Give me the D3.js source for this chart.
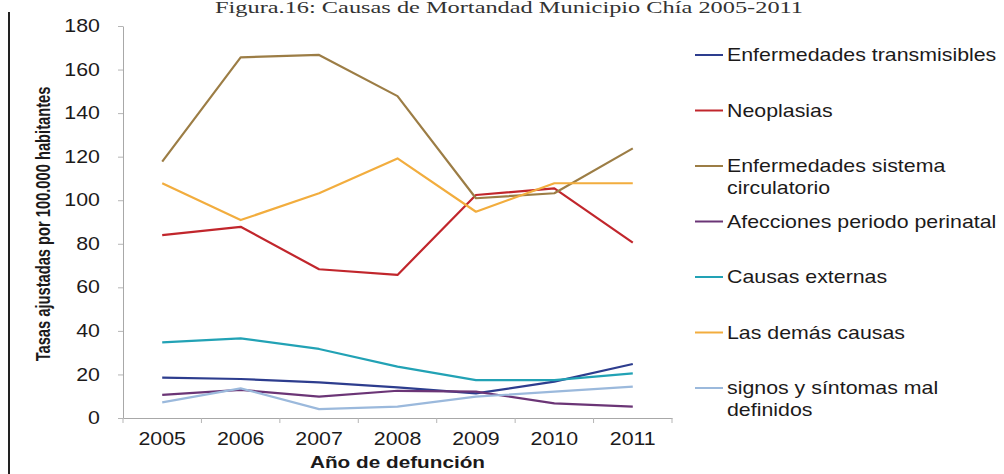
<!DOCTYPE html>
<html>
<head>
<meta charset="utf-8">
<script src="https://cdn.jsdelivr.net/npm/d3@7"></script>
<style>
  html, body { margin: 0; padding: 0; background: #fff; }
  svg { display: block; }
  .wide { transform-box: fill-box; transform: scaleX(1.22); }
  .wide-mid { transform-origin: center; }
  .wide-end { transform-origin: right; }
  .wide-start { transform-origin: left; }
</style>
</head>
<body>
<svg id="chart" width="1004" height="474"></svg>
<script>
// Mortality causes, adjusted rates per 100.000 inhabitants, 2005-2011
const years = ["2005", "2006", "2007", "2008", "2009", "2010", "2011"];
const seriesNames = [
  "Enfermedades transmisibles",
  "Neoplasias",
  "Enfermedades sistema circulatorio",
  "Afecciones periodo perinatal",
  "Causas externas",
  "Las demás causas",
  "signos y síntomas mal definidos"
];
const legendLines = [
  ["Enfermedades transmisibles"],
  ["Neoplasias"],
  ["Enfermedades sistema", "circulatorio"],
  ["Afecciones periodo perinatal"],
  ["Causas externas"],
  ["Las demás causas"],
  ["signos y síntomas mal", "definidos"]
];
const transmisibles = [18.5, 17.9, 16.4, 14.1, 11.3, 16.7, 24.8];
const neoplasias    = [84.0, 87.8, 68.3, 65.7, 102.4, 105.4, 80.5];
const circulatorio  = [117.7, 165.6, 166.7, 147.8, 100.9, 103.2, 123.8];
const perinatal     = [10.6, 12.9, 9.8, 12.5, 12.1, 6.7, 5.2];
const externas      = [34.7, 36.6, 31.7, 23.6, 17.4, 17.4, 20.5];
const demas         = [107.8, 90.9, 103.2, 119.2, 94.7, 107.8, 107.8];
const signos        = [7.2, 13.6, 4.1, 5.2, 9.8, 12.1, 14.4];
const yTicks = [0, 20, 40, 60, 80, 100, 120, 140, 160, 180];

const seriesValues = [transmisibles, neoplasias, circulatorio, perinatal, externas, demas, signos];
const colors = ["#2d3d8e", "#c1262c", "#9c7d45", "#6b3576", "#22a2b5", "#f2ad3e", "#9bb9dc"];

const svg = d3.select("#chart");
const plot = { left: 123, right: 672, top: 26, bottom: 418 };
const sansFont = "'Liberation Sans', Arial, sans-serif";
const textColor = "#1c1a1a";

const x = d3.scaleBand().domain(years).range([plot.left, plot.right]);
const y = d3.scaleLinear().domain([0, 180]).range([plot.bottom, plot.top]);

// Page border on the left
svg.append("line")
  .attr("x1", 9).attr("x2", 9).attr("y1", 12).attr("y2", 474)
  .attr("stroke", "#222").attr("stroke-width", 2);

// Title
svg.append("text")
  .attr("x", 509).attr("y", 13)
  .attr("text-anchor", "middle")
  .attr("font-family", "'Liberation Serif', 'Times New Roman', serif")
  .attr("font-size", 16)
  .attr("textLength", 588).attr("lengthAdjust", "spacingAndGlyphs")
  .attr("fill", "#333")
  .text("Figura.16: Causas de Mortandad Municipio Chía  2005-2011");

// Y axis
const yAxis = svg.append("g")
  .attr("transform", `translate(${plot.left},0)`)
  .call(d3.axisLeft(y).tickValues(yTicks).tickSize(5).tickPadding(18).tickSizeOuter(0));
yAxis.select(".domain").attr("stroke", "#a8a8a8");
yAxis.selectAll(".tick line").attr("stroke", "#b5b5b5");
yAxis.selectAll(".tick text")
  .attr("class", "wide wide-end")
  .attr("font-family", sansFont).attr("font-size", 17.5).attr("fill", textColor);

// X axis
const xAxis = svg.append("g")
  .attr("transform", `translate(0,${plot.bottom})`)
  .call(d3.axisBottom(x).tickSize(5).tickPadding(10).tickSizeOuter(0));
xAxis.select(".domain").attr("stroke", "#a8a8a8");
xAxis.selectAll(".tick line").remove();
// Separator ticks between categories
xAxis.selectAll(".sep")
  .data(years.concat(["end"]))
  .join("line")
  .attr("class", "sep")
  .attr("x1", (d, i) => plot.left + i * x.step())
  .attr("x2", (d, i) => plot.left + i * x.step())
  .attr("y1", 0).attr("y2", 5)
  .attr("stroke", "#b5b5b5");
xAxis.selectAll(".tick text")
  .attr("class", "wide wide-mid")
  .attr("font-family", sansFont).attr("font-size", 17.5).attr("fill", textColor);

// Axis titles: the vertical one is condensed to fit beside the tick labels
const yTitle = svg.append("text")
  .attr("text-anchor", "middle")
  .attr("dy", "0.35em")
  .attr("font-family", sansFont).attr("font-weight", "bold").attr("font-size", 19.5)
  .attr("fill", textColor)
  .text("Tasas ajustadas por 100.000 habitantes");
const yTitleScale = 275 / yTitle.node().getComputedTextLength();
yTitle.attr("transform",
  `translate(43,${(plot.top + plot.bottom) / 2 + 2}) rotate(-90) scale(${yTitleScale},1)`);

svg.append("text")
  .attr("class", "wide wide-mid")
  .attr("x", (plot.left + plot.right) / 2).attr("y", 468)
  .attr("text-anchor", "middle")
  .attr("font-family", sansFont).attr("font-weight", "bold").attr("font-size", 17)
  .attr("fill", textColor)
  .text("Año de defunción");

// Series lines
const line = d3.line()
  .x((d, i) => x(years[i]) + x.bandwidth() / 2)
  .y(d => y(d));

svg.append("g").selectAll("path")
  .data(seriesValues)
  .join("path")
  .attr("d", d => line(d))
  .attr("fill", "none")
  .attr("stroke", (d, i) => colors[i])
  .attr("stroke-width", 2.2)
  .attr("stroke-linejoin", "round");

// Legend
const legend = svg.append("g").attr("transform", "translate(695,55)");
const rowGap = 55.5;
const items = legend.selectAll("g")
  .data(seriesNames)
  .join("g")
  .attr("transform", (d, i) => `translate(0,${i * rowGap})`);
items.append("line")
  .attr("x1", 0).attr("x2", 28).attr("y1", 0).attr("y2", 0)
  .attr("stroke", (d, i) => colors[i]).attr("stroke-width", 2);
items.append("text")
  .attr("class", "wide wide-start")
  .attr("x", 32).attr("y", 0)
  .attr("font-family", sansFont).attr("font-size", 17.5).attr("fill", textColor)
  .each(function (d, i) {
    d3.select(this).selectAll("tspan")
      .data(legendLines[i])
      .join("tspan")
      .attr("x", 32)
      .attr("dy", (t, j) => j === 0 ? "0.35em" : "21.5px")
      .text(t => t);
  });
</script>
</body>
</html>
